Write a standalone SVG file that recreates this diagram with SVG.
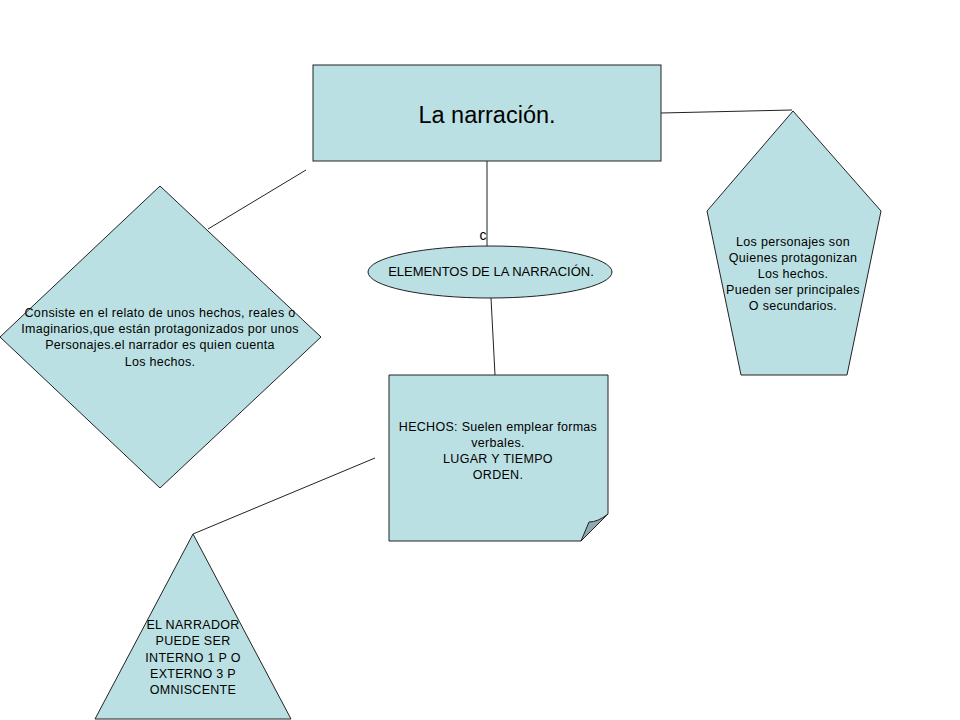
<svg xmlns="http://www.w3.org/2000/svg" width="960" height="720" viewBox="0 0 960 720">
<style>
.shape{fill:#bbe0e3;stroke:#222;stroke-width:1}
.conn{stroke:#222;stroke-width:1;fill:none}
text{font-family:"Liberation Sans",Arial,sans-serif;fill:#000;text-anchor:middle}
.t{font-size:12.5px;letter-spacing:0.3px}
</style>
<rect width="960" height="720" fill="#fff"/>
<g id="connectors">
<line class="conn" x1="487" y1="161" x2="487" y2="246"/>
<line class="conn" x1="491" y1="298" x2="495" y2="375"/>
<line class="conn" x1="661" y1="113" x2="792" y2="110"/>
<line class="conn" x1="208" y1="229" x2="306" y2="170"/>
<line class="conn" x1="193" y1="534" x2="375" y2="458"/>
<text x="483" y="240" font-size="14">c</text>
</g>
<g id="narracion">
<rect class="shape" x="313" y="65" width="348" height="96"/>
<text x="487" y="123" font-size="23.5">La narración.</text>
</g>
<g id="elementos">
<ellipse class="shape" cx="490" cy="272" rx="122" ry="26"/>
<text x="491" y="276" font-size="13">ELEMENTOS DE LA NARRACIÓN.</text>
</g>
<g id="hechos">
<path class="shape" d="M389,375 H608 V514 L581,541 H389 Z"/>
<path d="M581,541 L589,522 Q598,522 608,514 Z" fill="#8fa9ac" stroke="#222" stroke-width="1"/>
<text class="t" x="498" y="431">HECHOS: Suelen emplear formas</text>
<text class="t" x="498" y="447">verbales.</text>
<text class="t" x="498" y="463">LUGAR Y TIEMPO</text>
<text class="t" x="498" y="479">ORDEN.</text>
</g>
<g id="consiste">
<polygon class="shape" points="160,186 321,337 160,488 0,337"/>
<text class="t" x="160" y="317">Consiste en el relato de unos hechos, reales o</text>
<text class="t" x="160" y="333">Imaginarios,que están protagonizados por unos</text>
<text class="t" x="160" y="349">Personajes.el narrador es quien cuenta</text>
<text class="t" x="160" y="366">Los hechos.</text>
</g>
<g id="personajes">
<polygon class="shape" points="793,111 881,211 847,375 741,375 707,211"/>
<text class="t" x="793" y="246">Los personajes son</text>
<text class="t" x="793" y="262">Quienes protagonizan</text>
<text class="t" x="793" y="278">Los hechos.</text>
<text class="t" x="793" y="294">Pueden ser principales</text>
<text class="t" x="793" y="310">O secundarios.</text>
</g>
<g id="narrador">
<polygon class="shape" points="193,534 291,719 95,719"/>
<text class="t" x="193" y="629">EL NARRADOR</text>
<text class="t" x="193" y="645">PUEDE SER</text>
<text class="t" x="193" y="662">INTERNO 1 P O</text>
<text class="t" x="193" y="678">EXTERNO 3 P</text>
<text class="t" x="193" y="694">OMNISCENTE</text>
</g>
</svg>
